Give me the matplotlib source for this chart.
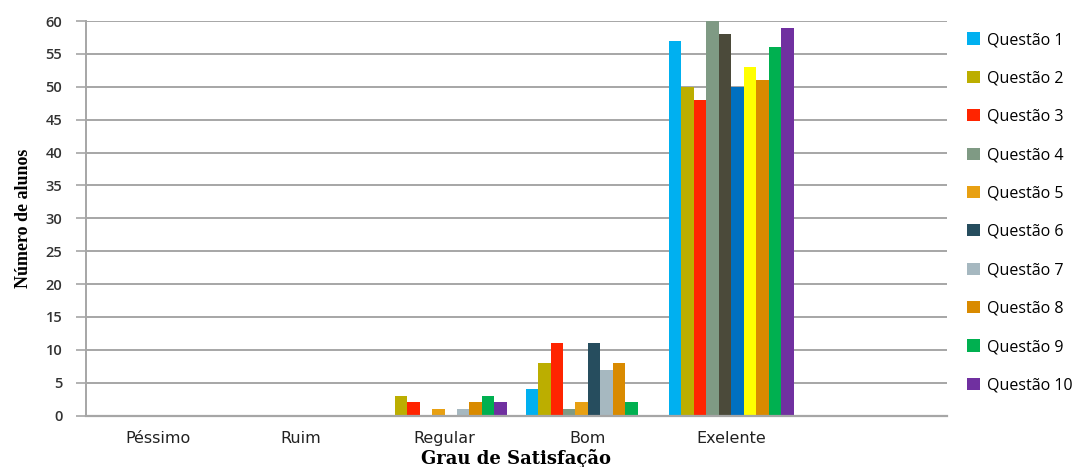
import matplotlib
matplotlib.use("Agg")
import matplotlib.pyplot as plt
import numpy as np

# categories on the x axis (last slot is empty in the original)
categories = ["Péssimo", "Ruim", "Regular", "Bom", "Exelente", ""]
series_names = ["Questão 1", "Questão 2", "Questão 3", "Questão 4", "Questão 5",
                "Questão 6", "Questão 7", "Questão 8", "Questão 9", "Questão 10"]

# number of students per question, per category
q1 = [0, 0, 0, 4, 57, 0]
q2 = [0, 0, 3, 8, 50, 0]
q3 = [0, 0, 2, 11, 48, 0]
q4 = [0, 0, 0, 1, 60, 0]
q5 = [0, 0, 1, 2, 58, 0]
q6 = [0, 0, 0, 11, 50, 0]
q7 = [0, 0, 1, 7, 53, 0]
q8 = [0, 0, 2, 8, 51, 0]
q9 = [0, 0, 3, 2, 56, 0]
q10 = [0, 0, 2, 0, 59, 0]
values = [q1, q2, q3, q4, q5, q6, q7, q8, q9, q10]

colors = ["#00B0F0", "#BCAE00", "#FF2400", "#7F9A84", "#E8A012",
          "#264D5E", "#A6B8C0", "#D98A00", "#00B050", "#7030A0"]
# the "Exelente" group was recoloured for questions 5-7 in the original
exelente_colors = {4: "#4B4A3A", 5: "#0070C0", 6: "#FFFF00"}

fig = plt.figure(figsize=(10.88, 4.67), dpi=100)
ax = fig.add_axes([0.079, 0.110, 0.791, 0.845])

x = np.arange(len(categories))
width = 0.087
n = len(values)
for i, (name, vals) in enumerate(zip(series_names, values)):
    offs = (i - (n - 1) / 2) * width
    bar_colors = [colors[i]] * len(vals)
    if i in exelente_colors:
        bar_colors[4] = exelente_colors[i]
    ax.bar(x + offs, vals, width, color=bar_colors, label=name, linewidth=0, zorder=3)

ax.set_xlim(-0.5, len(categories) - 0.5)
ax.set_ylim(0, 60)
ax.set_yticks(np.arange(0, 61, 5))
ax.set_xticks(x)
ax.set_xticklabels(categories)

ax.grid(axis="y", color="#A6A6A6", linewidth=1.4, zorder=0)
for s in ["top", "right"]:
    ax.spines[s].set_visible(False)
ax.spines["left"].set_color("#A6A6A6")
ax.spines["bottom"].set_color("#A6A6A6")
ax.spines["left"].set_linewidth(1.4)
ax.spines["bottom"].set_linewidth(1.6)
ax.spines["bottom"].set_zorder(4)

ax.tick_params(axis="y", length=7, color="#A6A6A6", width=1.2, pad=10,
               labelsize=10.5, labelcolor="#333333")
ax.tick_params(axis="x", length=0, pad=11, labelsize=11.5, labelcolor="#222222")
for lab in ax.get_yticklabels():
    lab.set_family("Open Sans")
    lab.set_fontweight("semibold")
for lab in ax.get_xticklabels():
    lab.set_family("DejaVu Sans")

ax.set_ylabel("Número de alunos", family="Liberation Serif", fontweight="bold",
              fontsize=13, labelpad=10)
ax.set_xlabel("Grau de Satisfação", family="DejaVu Serif", fontweight="bold",
              fontsize=13, labelpad=2)

fig.legend(loc="upper left", bbox_to_anchor=(0.876, 0.962),
           frameon=False, handlelength=0.8, handleheight=0.8,
           handletextpad=0.4, labelspacing=1.4,
           prop={"family": "Open Sans", "size": 11.5})

fig.savefig("out.png", dpi=100)
